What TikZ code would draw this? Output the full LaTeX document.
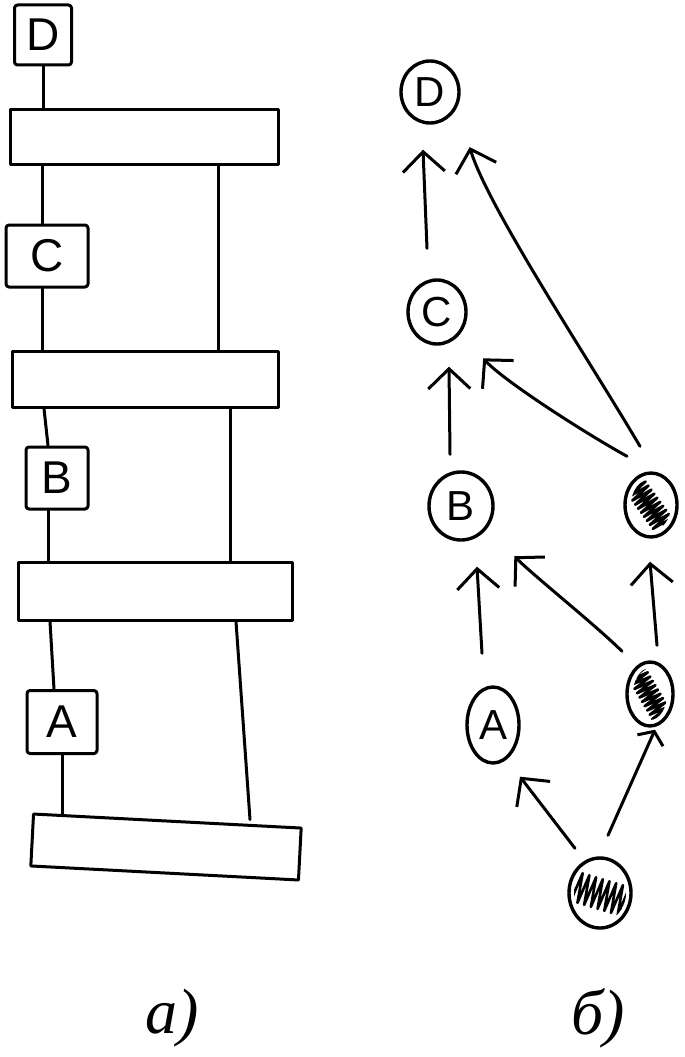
\documentclass[tikz,border=0pt]{standalone}
\usepackage{fontspec}
\setmainfont{Liberation Sans}
\newfontfamily\labfont{Liberation Serif}
\usetikzlibrary{shapes.geometric,arrows.meta,decorations.pathmorphing,calc}
\newcommand\myscrib[7]{%
  \begin{scope}
    \clip (#1.center) ellipse [x radius=#2, y radius=#3];
    \draw[line width=2.6pt, decorate, decoration={zigzag, segment length=#7pt, amplitude=#6pt}]
      ($(#1.center)+(#4)$) -- ($(#1.center)+(#5)$);
  \end{scope}}
\begin{document}
\begin{tikzpicture}[x=1pt,y=-1pt, line width=3pt, line cap=round, line join=round,
  lbox/.style={draw, rectangle, rounded corners=3pt, inner sep=0pt, font=\fontsize{46}{50}\selectfont},
  bar/.style={draw, rectangle, inner sep=0pt},
  vnode/.style={draw, ellipse, inner sep=0pt, line width=3.4pt, font=\fontsize{42}{46}\selectfont},
  arr/.style={-{Straight Barb[length=20pt,width=42pt]}},
  arrs/.style={-{Straight Barb[length=10pt,width=28pt]}},
  lab/.style={font=\labfont\itshape\fontsize{64}{70}\selectfont}]
\useasboundingbox (0,0) rectangle (685,1057);

% ---------- (a) ----------
\node[lbox, minimum width=57pt, minimum height=60pt] (bD) at (43,35) {D};
\node[lbox, minimum width=82pt, minimum height=62pt] (bC) at (47,256) {C};
\node[lbox, minimum width=62pt, minimum height=62pt] (bB) at (57,478) {B};
\node[lbox, minimum width=70pt, minimum height=63pt] (bA) at (62,722) {A};
\node[bar, minimum width=268pt, minimum height=55pt] (bar1) at (144,137) {};
\node[bar, minimum width=266pt, minimum height=56pt] (bar2) at (145,379) {};
\node[bar, minimum width=274pt, minimum height=58pt] (bar3) at (155,591) {};
\node[bar, minimum width=268pt, minimum height=52pt, rotate=-3] (bar4) at (166,847) {};

\coordinate (r1) at (218,0);
\coordinate (r2) at (230,0);
\coordinate (r3) at (236,0);
\coordinate (r4) at (250,0);

\draw (bD.south) -- (bD.south |- bar1.north);
\draw ($(bC.north)+(-5,0)$) -- ($(bC.north |- bar1.south)+(-5,0)$);
\draw ($(bC.south)+(-5,0)$) -- ($(bC.south |- bar2.north)+(-5,0)$);
\draw ($(bB.north)+(-9,0)$) -- ($(bB.north |- bar2.south)+(-13,0)$);
\draw ($(bB.south)+(-9,0)$) -- ($(bB.south |- bar3.north)+(-9,0)$);
\draw ($(bA.north)+(-8,0)$) -- ($(bA.north |- bar3.south)+(-12,0)$);
\draw[shorten >=4pt] (bA.south) -- (bA.south |- bar4.north);

\draw (bar1.south -| r1) -- (bar2.north -| r1);
\draw (bar2.south -| r2) -- (bar3.north -| r2);
\draw (bar3.south -| r3) -- (bar4.north -| r4);

% ---------- (b) ----------
\node[vnode, minimum width=58pt, minimum height=62pt] (nD) at (430,92) {D};
\node[vnode, minimum width=58pt, minimum height=64pt] (nC) at (437,312) {C};
\node[vnode, minimum width=64pt, minimum height=68pt] (nB) at (461,506) {B};
\node[vnode, minimum width=52pt, minimum height=76pt] (nA) at (493,725) {A};
\node[vnode, minimum width=52pt, minimum height=64pt] (h1) at (651,505) {};
\node[vnode, minimum width=46pt, minimum height=64pt] (h2) at (650,694) {};
\node[vnode, minimum width=62pt, minimum height=70pt] (h3) at (600,893) {};

\myscrib{h1}{20}{26}{-18,-22}{14,22}{11}{5}
\myscrib{h2}{17}{26}{-14,-22}{12,22}{10}{5}
\myscrib{h3}{26}{29}{-30,-8}{30,10}{15}{7}

\draw[arr] ($(nC.north)+(-10,-30)$) -- ($(nD.south)+(-7,25)$);
\draw[arr] ($(nB.north)+(-11,-16)$) -- ($(nC.south)+(12,21)$);
\draw[arr] ($(nA.north)+(-11,-32)$) -- ($(nB.south)+(16,25)$);
\draw[arr] ($(h2.north)+(7,-15)$) -- ($(h1.south)+(-1,23)$);
\draw[arr] ($(h3.north)+(-25,-8)$) -- ($(nA.south)+(27,12)$);
\draw[arrs] ($(h3.north)+(8,-21)$) -- ($(h2.south)+(5,2)$);
\draw[arr] ($(h1.north)+(-24,-15)$) .. controls +(-45,-25) and +(20,22) .. ($(nC.south east)+(24.5,22.5)$);
\draw[arr] ($(h1.north)+(-11,-25)$) .. controls +(-50,-85) and +(18,60) .. ($(nD.south east)+(18,32)$);
\draw[arr] ($(h2.north)+(-28,-9)$) .. controls +(-25,-25) and +(20,20) .. ($(nB.south east)+(29.5,25)$);

% ---------- labels ----------
\node[lab] (la) at (172,1018) {а)};
\node[lab] (lb) at (598,1018) {б)};
\end{tikzpicture}
\end{document}
